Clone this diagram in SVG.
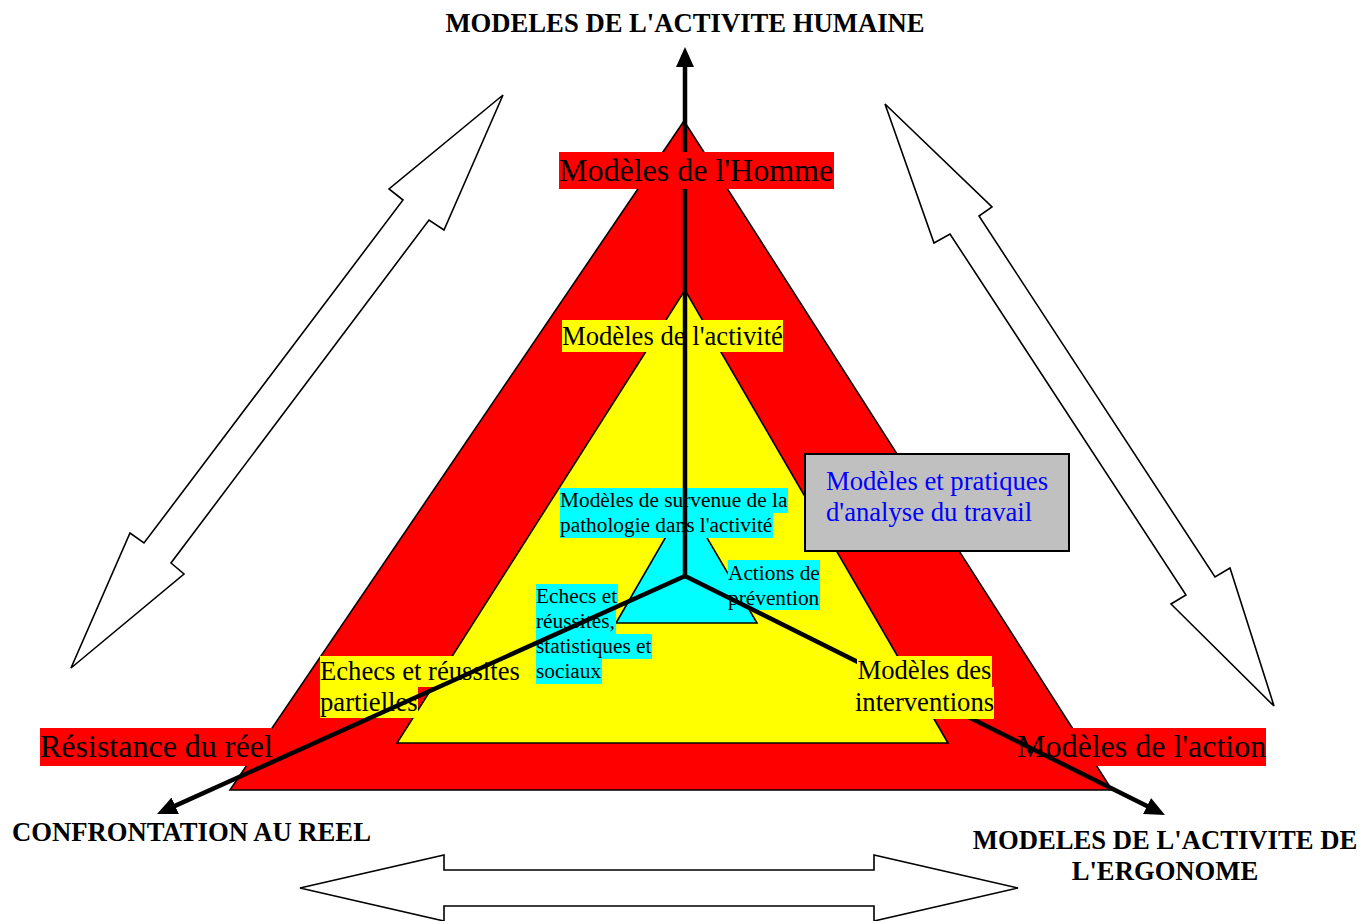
<svg xmlns="http://www.w3.org/2000/svg" width="1365" height="921" viewBox="0 0 1365 921">
<style>
.hollow{fill:#fff;stroke:#000;stroke-width:1.6;stroke-linejoin:miter}
.tri{stroke:#000;stroke-width:1.6;stroke-linejoin:miter}
.t{font-family:"Liberation Serif","Times New Roman",serif;fill:#000}
.big{font-size:32px}
.mid{font-size:26.67px}
.sm{font-size:21.33px}
.title{font-family:"Liberation Serif","Times New Roman",serif;font-size:26.67px;font-weight:bold;fill:#000}
.conn{stroke:#000;stroke-width:4.5;fill:none;stroke-linecap:round}
.bgred{fill:#FF0000}
.bgyel{fill:#FFFF00}
.bgcy{fill:#00FFFF}
</style>
<defs>
<marker id="ah" viewBox="0 0 20 18" refX="10" refY="9" markerWidth="20" markerHeight="18" markerUnits="userSpaceOnUse" orient="auto">
<path d="M0,0 L20,9 L0,18 z" fill="#000"/>
</marker>
</defs>

<g id="arrow-left">
<polygon class="hollow" points="503,95 444,230 429,220 171,563 184,574 71,668 130,533 144,543 403,200 389,189"/>
</g>
<g id="arrow-right">
<polygon class="hollow" points="885,104 992,207 979,216 1215,577 1230,568 1274,706 1171,604 1186,595 950,234 934,243"/>
</g>
<g id="arrow-bottom">
<polygon class="hollow" points="300,888 444,855 444,870 874,870 874,855 1018,888 874,921 874,906 444,906 444,921"/>
</g>

<g id="triangle-red">
<polygon class="tri" fill="#FF0000" points="684,121 230,790 1112,790"/>
</g>
<g id="triangle-yellow">
<polygon class="tri" fill="#FFFF00" points="685,290 397,743 948,743"/>
</g>
<g id="triangle-cyan">
<polygon class="tri" fill="#00FFFF" points="686,502 616,623 757,623"/>
</g>

<g id="label-activite">
<rect class="bgyel" x="562" y="320" width="221" height="32"/>
<text class="t mid" x="562" y="345">Modèles de l'activité</text>
</g>
<g id="label-survenue">
<rect class="bgcy" x="560" y="488" width="228" height="25"/>
<rect class="bgcy" x="560" y="513" width="213" height="25"/>
<text class="t sm" x="560" y="507">Modèles de survenue de la</text>
<text class="t sm" x="560" y="532">pathologie dans l'activité</text>
</g>
<g id="label-prevention">
<rect class="bgcy" x="728" y="560" width="92" height="25"/>
<rect class="bgcy" x="728" y="585" width="92" height="25"/>
<text class="t sm" x="728" y="580">Actions de</text>
<text class="t sm" x="728" y="605">prévention</text>
</g>
<g id="label-echecs-stats">
<rect class="bgcy" x="536" y="584" width="82" height="25"/>
<rect class="bgcy" x="536" y="609" width="80" height="25"/>
<rect class="bgcy" x="536" y="634" width="116" height="25"/>
<rect class="bgcy" x="536" y="659" width="66" height="25"/>
<text class="t sm" x="536" y="603">Echecs et</text>
<text class="t sm" x="536" y="628">réussites,</text>
<text class="t sm" x="536" y="653">statistiques et</text>
<text class="t sm" x="536" y="678">sociaux</text>
</g>
<g id="label-echecs-partielles">
<rect class="bgyel" x="320" y="656" width="200" height="31"/>
<rect class="bgyel" x="320" y="687" width="98" height="31"/>
<text class="t mid" x="320" y="680">Echecs et réussites</text>
<text class="t mid" x="320" y="711">partielles</text>
</g>
<g id="label-resistance">
<rect class="bgred" x="40" y="728" width="232" height="38"/>
<text class="t big" x="40" y="757">Résistance du réel</text>
</g>
<g id="label-action">
<rect class="bgred" x="1017" y="728" width="249" height="38"/>
<text class="t big" x="1017" y="757">Modèles de l'action</text>
</g>

<g id="connectors">
<line class="conn" x1="685" y1="576" x2="685" y2="57" marker-end="url(#ah)"/>
<line class="conn" x1="685" y1="576" x2="166.1" y2="809.9" marker-end="url(#ah)"/>
<line class="conn" x1="685" y1="576" x2="1156" y2="810.5" marker-end="url(#ah)"/>
</g>

<g id="label-homme">
<rect class="bgred" x="559" y="152" width="275" height="37"/>
<text class="t big" x="559" y="181">Modèles de l'Homme</text>
</g>
<g id="label-interventions">
<rect class="bgyel" x="857" y="656" width="135" height="31"/>
<rect class="bgyel" x="855" y="687" width="139" height="32"/>
<text class="t mid" x="924.5" y="679" text-anchor="middle">Modèles des</text>
<text class="t mid" x="924.5" y="711" text-anchor="middle">interventions</text>
</g>
<g id="box-analyse">
<rect x="805" y="454" width="264" height="97" fill="#C0C0C0" stroke="#000" stroke-width="2"/>
<text class="t mid" x="826" y="490" fill="#0000FF" style="fill:#0000FF">Modèles et pratiques</text>
<text class="t mid" x="826" y="521" style="fill:#0000FF">d'analyse du travail</text>
</g>

<g id="title-top">
<text class="title" x="685" y="32" text-anchor="middle">MODELES DE L'ACTIVITE HUMAINE</text>
</g>
<g id="title-left">
<text class="title" x="12" y="841">CONFRONTATION AU REEL</text>
</g>
<g id="title-right">
<text class="title" x="1165" y="849" text-anchor="middle">MODELES DE L'ACTIVITE DE</text>
<text class="title" x="1165" y="880" text-anchor="middle">L'ERGONOME</text>
</g>
</svg>
